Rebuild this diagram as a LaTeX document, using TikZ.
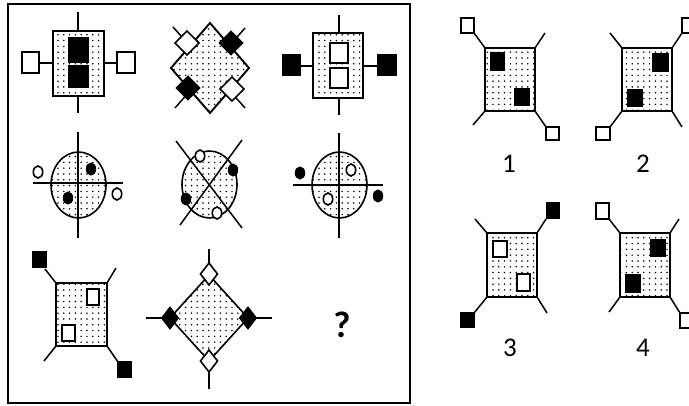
\documentclass[tikz,border=0pt]{standalone}
\usepackage{fontspec}
\setmainfont{Carlito}
\usetikzlibrary{patterns.meta}
\tikzset{
  dotbox/.style={preaction={fill=white},pattern={Dots[radius=0.85pt,distance=5.8pt]},draw=black,line width=1.9pt},
  ln/.style={line width=1.5pt},
  wsq/.style={draw=black,fill=white,line width=1.6pt},
  bsq/.style={draw=black,fill=black,line width=1pt},
  lbl/.style={font=\fontsize{27}{27}\selectfont,inner sep=0pt},
}
\newcommand\dmd[5]{\draw[#5] ({#1},{#2-#4})--({#1+#3},{#2})--({#1},{#2+#4})--({#1-#3},{#2})--cycle;}
\newcommand\blob[3]{\draw[#3] (#1,#2) ellipse [x radius=4.7, y radius=6];}
\begin{document}
\begin{tikzpicture}[x=1pt,y=-1pt]
\useasboundingbox (0,0) rectangle (689,406);
\fill[white] (0,0) rectangle (689,406);
% frame
\draw[line width=1.6pt] (8,4) rectangle (410,403);
% ---------- row 1, figure 1
\draw[ln] (78,12)--(78,31) (78,96)--(78,113) (39,63)--(53,63) (104,63)--(117,63);
\draw[dotbox] (53,31) rectangle (104,96);
\draw[bsq] (68,38) rectangle (88,63) (68,66) rectangle (88,88);
\draw[wsq] (22,52) rectangle (39,73) (117,52) rectangle (135,73);
% ---------- row 1, figure 2
\draw[ln] (173,27)--(245,108) (245,28)--(175,108);
\draw[dotbox] (210,23)--(249,68)--(210,113)--(171,68)--cycle;
\dmd{187}{43}{12}{12}{wsq}
\dmd{231}{43}{12}{12}{bsq}
\dmd{188}{88}{12}{12}{bsq}
\dmd{232}{89}{12}{12}{wsq}
% ---------- row 1, figure 3
\draw[ln] (339,15)--(339,33) (339,98)--(339,115) (300,66)--(313,66) (363,66)--(377,66);
\draw[dotbox] (313,33) rectangle (363,98);
\draw[wsq] (330,43) rectangle (348,63) (330,68) rectangle (348,88);
\draw[bsq] (282,55) rectangle (300,76) (377,55) rectangle (396,76);
% ---------- row 2, figure 1
\draw[dotbox,line width=1.6pt] (78.5,185) ellipse [x radius=27.5, y radius=33];
\draw[ln] (78,132)--(78,238) (33,183)--(123,183);
\blob{91}{169}{bsq} \blob{68}{198}{bsq}
\blob{38}{172}{wsq} \blob{117}{194}{wsq}
% ---------- row 2, figure 2
\draw[dotbox,line width=1.6pt] (209.5,184.5) ellipse [x radius=27.5, y radius=33.5];
\draw[ln] (176,141)--(242,228) (242,140)--(180,225);
\blob{200}{156}{wsq} \blob{233}{170}{bsq}
\blob{186}{199}{bsq} \blob{217}{213}{wsq}
% ---------- row 2, figure 3
\draw[dotbox,line width=1.6pt] (339.5,185) ellipse [x radius=27.5, y radius=33];
\draw[ln] (339,133)--(339,238) (293,185)--(383,185);
\blob{300}{173}{bsq} \blob{351}{170}{wsq}
\blob{328}{199}{wsq} \blob{378}{196}{bsq}
% ---------- row 3, figure 1
\draw[ln] (56,283)--(45,269) (107,283)--(116,268) (56,346)--(44,361) (107,346)--(118,362);
\draw[dotbox] (56,283) rectangle (107,346);
\draw[bsq] (32,252) rectangle (46,268) (117,362) rectangle (131,378);
\draw[wsq] (87,289) rectangle (99,305) (62,325) rectangle (75,341);
% ---------- row 3, figure 2
\draw[ln] (146,318)--(170,318) (248,318)--(272,318) (209,249)--(209,275) (209,361)--(209,389);
\draw[dotbox,line width=1.6pt] (209,275)--(248,318)--(209,361)--(170,318)--cycle;
\dmd{209}{274}{8.5}{11}{wsq}
\dmd{209}{361}{8.5}{11}{wsq}
\dmd{170}{318}{8.5}{11}{bsq}
\dmd{248}{318}{8.5}{11}{bsq}
% question mark
\node[font=\fontsize{37}{37}\selectfont\bfseries,inner sep=0pt] (q) at (342,325) {?};
% ---------- option 1
\draw[ln] (485,48)--(474,33) (535,48)--(545,33) (485,111)--(473,125) (535,111)--(546,127);
\draw[dotbox] (485,48) rectangle (535,111);
\draw[bsq] (490,53) rectangle (504,71) (514,89) rectangle (529,106);
\draw[wsq] (461,18) rectangle (474,33) (546,127) rectangle (559,140);
\node[lbl] (l1) at (509,164) {1};
% ---------- option 2
\draw[ln] (622,48)--(610,33) (672,48)--(682,33) (622,111)--(610,127) (672,111)--(682,127);
\draw[dotbox] (622,48) rectangle (672,111);
\draw[bsq] (652,54) rectangle (668,72) (627,90) rectangle (642,107);
\draw[wsq] (682,18) rectangle (695,33) (596,127) rectangle (610,140);
\node[lbl] (l2) at (643,164) {2};
% ---------- option 3
\draw[ln] (487,233)--(475,219) (537,233)--(546,219) (487,297)--(474,313) (537,297)--(547,313);
\draw[dotbox] (487,233) rectangle (537,297);
\draw[wsq] (493,241) rectangle (507,257) (517,274) rectangle (530,291);
\draw[bsq] (546,203) rectangle (559,219) (460,313) rectangle (474,328);
\node[lbl] (l3) at (510,348) {3};
% ---------- option 4
\draw[ln] (620,233)--(609,219) (670,233)--(679,219) (620,297)--(609,312) (670,297)--(680,313);
\draw[dotbox] (620,233) rectangle (670,297);
\draw[bsq] (650,240) rectangle (665,257) (625,275) rectangle (640,293);
\draw[wsq] (596,203) rectangle (609,219) (680,313) rectangle (693,328);
\node[lbl] (l4) at (643,348) {4};
\end{tikzpicture}
\end{document}
